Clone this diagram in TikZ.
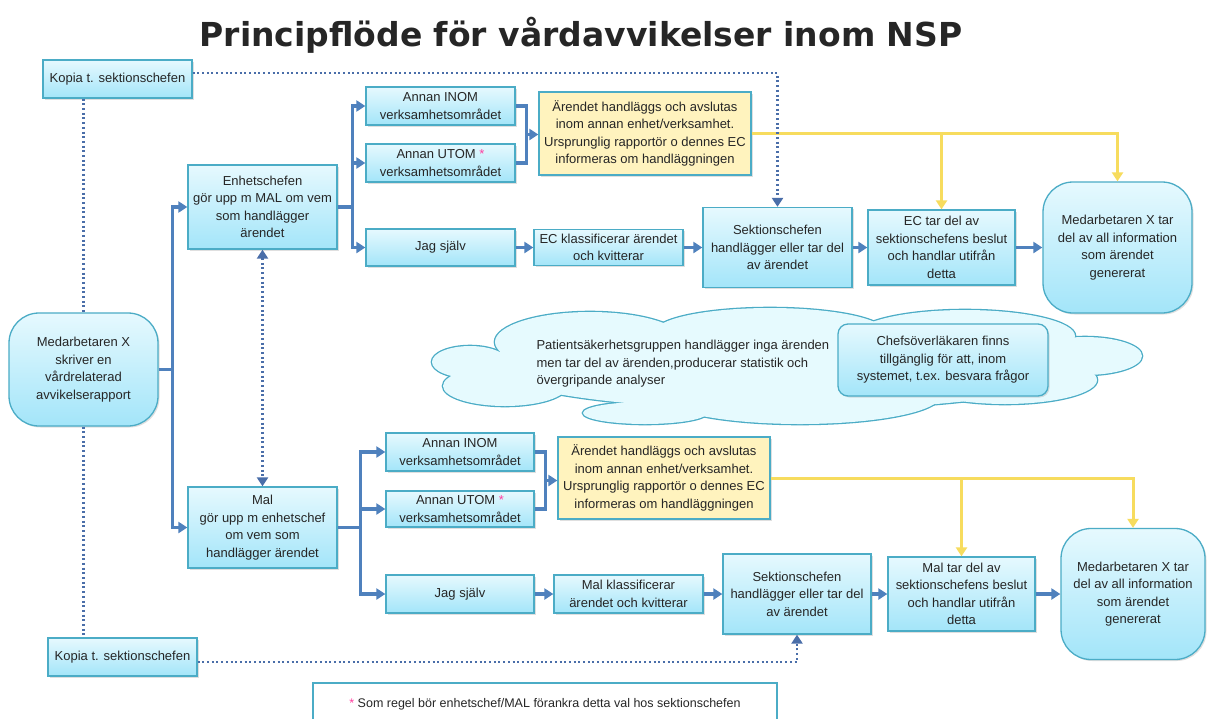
\documentclass[tikz,border=0pt]{standalone}
\usepackage{fontspec}
\setmainfont{Liberation Sans}
\newfontfamily\titlefont{DejaVu Sans}
\usetikzlibrary{shapes,arrows.meta,positioning,calc,shadows}
\definecolor{boxedge}{HTML}{4BACC6}
\definecolor{boxtop}{HTML}{E6F9FE}
\definecolor{boxbot}{HTML}{A3E5F9}
\definecolor{flowblue}{HTML}{4F81BD}
\definecolor{dotblue}{HTML}{4A6EA9}
\definecolor{ylwline}{HTML}{F7DC5E}
\definecolor{ylwfill}{HTML}{FFF3BE}
\definecolor{cloudfill}{HTML}{E6FAFE}
\definecolor{starpink}{HTML}{FF3FA0}
\definecolor{txt}{HTML}{262626}

\begin{document}
\begin{tikzpicture}[x=1pt,y=-1pt,
    box/.style={rectangle,draw=boxedge,line width=1.3pt,top color=boxtop,bottom color=boxbot,
      align=center,inner sep=2pt,text=txt,font=\fontsize{13}{17.5}\selectfont,
      drop shadow={opacity=0.25,shadow xshift=1.5pt,shadow yshift=-1.5pt}},
    endbox/.style={box,rounded corners=30pt},
    ylwbox/.style={box,top color=ylwfill,bottom color=ylwfill},
    flowline/.style={draw=flowblue,line width=3.6pt},
    flow/.style={flowline,-{Triangle[length=9pt,width=11pt]}},
    dots/.style={draw=dotblue,line width=2.5pt,dash pattern=on 2pt off 2.7pt},
    dotarrow/.style={dots,-{Triangle[length=9pt,width=11pt]}},
    ylw/.style={draw=ylwline,line width=3pt,-{Triangle[length=9pt,width=11pt]}}]
  \useasboundingbox (0,0) rectangle (1207,718);
  \fill[white] (0,0) rectangle (1207,718);
  \node[text=txt,font=\titlefont\bfseries\fontsize{33}{36}\selectfont] (title) at (581,35) {Principflöde för vårdavvikelser inom NSP};

  % cloud in the middle: outlined ellipses, then filled ones on top
  \foreach \cx/\cy/\rx/\ry in {470/362/38/16, 505/386/62/20, 590/342/95/30, 770/332/115/24,
      965/336/110/26, 1085/356/57/19, 1005/380/92/24, 800/396/140/28, 645/413/62/11, 787/365/300/45}
    \draw[boxedge,line width=2.6pt] (\cx,\cy) ellipse [x radius=\rx, y radius=\ry];
  \foreach \cx/\cy/\rx/\ry in {470/362/38/16, 505/386/62/20, 590/342/95/30, 770/332/115/24,
      965/336/110/26, 1085/356/57/19, 1005/380/92/24, 800/396/140/28, 645/413/62/11, 787/365/300/45}
    \fill[cloudfill] (\cx,\cy) ellipse [x radius=\rx, y radius=\ry];
  \node[anchor=west,align=left,text=txt,font=\fontsize{13}{17.5}\selectfont] (cloudtxt) at (533,364)
    {Patientsäkerhetsgruppen handlägger inga ärenden\\men tar del av ärenden,producerar statistik och\\övergripande analyser};
  \node[box,rounded corners=10pt,minimum width=210pt,minimum height=72pt] (chef) at (943,360)
    {Chefsöverläkaren finns\\tillgänglig för att, inom\\systemet, t.ex. besvara frågor};

  % left column
  \node[box,minimum width=149pt,minimum height=38pt] (kopiaTop) at (117.5,79) {Kopia t. sektionschefen};
  \node[endbox,minimum width=149pt,minimum height=113pt] (medX) at (83.5,369.5)
    {Medarbetaren X\\skriver en\\vårdrelaterad\\avvikelserapport};
  \node[box,minimum width=149pt,minimum height=38pt] (kopiaBot) at (122.5,657) {Kopia t. sektionschefen};
  \node[box,minimum width=149pt,minimum height=84pt] (enhet) at (262.5,207)
    {Enhetschefen\\gör upp m MAL om vem\\som handlägger\\ärendet};
  \node[box,minimum width=149pt,minimum height=81pt] (mal) at (262.5,527.5)
    {Mal\\gör upp m enhetschef\\om vem som\\handlägger ärendet};

  % upper flow
  \node[box,minimum width=149pt,minimum height=38pt] (inomA) at (440.5,106) {Annan INOM\\verksamhetsområdet};
  \node[box,minimum width=149pt,minimum height=38pt] (utomA) at (440.5,163) {Annan UTOM \textcolor{starpink}{*}\\verksamhetsområdet};
  \node[box,minimum width=149pt,minimum height=37pt] (jagA) at (440.5,247.5) {Jag själv};
  \node[ylwbox,minimum width=212pt,minimum height=83pt] (yellowA) at (645,133.5)
    {Ärendet handläggs och avslutas\\inom annan enhet/verksamhet.\\Ursprunglig rapportör o dennes EC\\informeras om handläggningen};
  \node[box,minimum width=149pt,minimum height=36pt] (ecKlass) at (608.5,247.5) {EC klassificerar ärendet\\och kvitterar};
  \node[box,minimum width=149pt,minimum height=80pt] (sektA) at (777.5,247.5)
    {Sektionschefen\\handlägger eller tar del\\av ärendet};
  \node[box,minimum width=147pt,minimum height=75pt] (ecDel) at (941.5,247.5)
    {EC tar del av\\sektionschefens beslut\\och handlar utifrån\\detta};
  \node[endbox,minimum width=149pt,minimum height=131pt] (medA) at (1117.5,247.5)
    {Medarbetaren X tar\\del av all information\\som ärendet\\genererat};

  % lower flow
  \node[box,minimum width=148pt,minimum height=38pt] (inomB) at (460,452) {Annan INOM\\verksamhetsområdet};
  \node[box,minimum width=148pt,minimum height=36pt] (utomB) at (460,509) {Annan UTOM \textcolor{starpink}{*}\\verksamhetsområdet};
  \node[box,minimum width=148pt,minimum height=38pt] (jagB) at (460,594) {Jag själv};
  \node[ylwbox,minimum width=212pt,minimum height=82pt] (yellowB) at (664,478)
    {Ärendet handläggs och avslutas\\inom annan enhet/verksamhet.\\Ursprunglig rapportör o dennes EC\\informeras om handläggningen};
  \node[box,minimum width=149pt,minimum height=38pt] (malKlass) at (628.5,594) {Mal klassificerar\\ärendet och kvitterar};
  \node[box,minimum width=148pt,minimum height=80pt] (sektB) at (797,594)
    {Sektionschefen\\handlägger eller tar del\\av ärendet};
  \node[box,minimum width=147pt,minimum height=74pt] (malDel) at (961.5,594)
    {Mal tar del av\\sektionschefens beslut\\och handlar utifrån\\detta};
  \node[endbox,minimum width=144pt,minimum height=131pt] (medB) at (1133,594)
    {Medarbetaren X tar\\del av all information\\som ärendet\\genererat};

  % footnote
  \node[draw=boxedge,line width=1.3pt,fill=white,minimum width=464pt,minimum height=42pt,
    text=txt,font=\fontsize{12.5}{15}\selectfont] (note) at (545,704)
    {\textcolor{starpink}{*} Som regel bör enhetschef/MAL förankra detta val hos sektionschefen};

  % report goes to the chefs
  \draw[flowline] (medX.east) -- ++(14,0) coordinate (jM);
  \draw[flow] (jM) |- (enhet.west);
  \draw[flow] (jM) |- (mal.west);
  \draw[dots,{Triangle[length=9pt,width=11pt]}-{Triangle[length=9pt,width=11pt]}] (enhet.south) -- (mal.north);

  % upper branches
  \draw[flowline] (enhet.east) -- ++(15,0) coordinate (jE);
  \foreach \n in {inomA,utomA,jagA} \draw[flow] (jE) |- (\n.west);
  \draw[flowline] (inomA.east) -- ++(11,0) |- (utomA.east);
  \coordinate (jYA) at ($(inomA.east)!.5!(utomA.east)+(11,0)$);
  \draw[flow] (jYA) -- (jYA -| yellowA.west);
  \draw[flow] (jagA) -- (ecKlass);
  \draw[flow] (ecKlass) -- (sektA);
  \draw[flow] (sektA) -- (ecDel);
  \draw[flow] (ecDel) -- (medA);
  \draw[ylw] (yellowA.east) -| (medA.north);
  \draw[ylw] (yellowA.east -| ecDel.north) -- (ecDel.north);

  % lower branches
  \draw[flowline] (mal.east) -- ++(23,0) coordinate (jL);
  \foreach \n in {inomB,utomB,jagB} \draw[flow] (jL) |- (\n.west);
  \draw[flowline] (inomB.east) -- ++(11,0) |- (utomB.east);
  \coordinate (jYB) at ($(inomB.east)!.5!(utomB.east)+(11,0)$);
  \draw[flow] (jYB) -- (jYB -| yellowB.west);
  \draw[flow] (jagB) -- (malKlass);
  \draw[flow] (malKlass) -- (sektB);
  \draw[flow] (sektB) -- (malDel);
  \draw[flow] (malDel) -- (medB);
  \draw[ylw] (yellowB.east) -| (medB.north);
  \draw[ylw] (yellowB.east -| malDel.north) -- (malDel.north);

  % copies to sektionschefen
  \draw[dotarrow] ($(kopiaTop.north east)!.35!(kopiaTop.south east)$) -| (sektA.north);
  \draw[dots] (kopiaTop.south -| medX.north) -- (medX.north);
  \draw[dots] (medX.south) -- (kopiaBot.north -| medX.south);
  \draw[dotarrow] ($(kopiaBot.north east)!.63!(kopiaBot.south east)$) -| (sektB.south);
\end{tikzpicture}
\end{document}
